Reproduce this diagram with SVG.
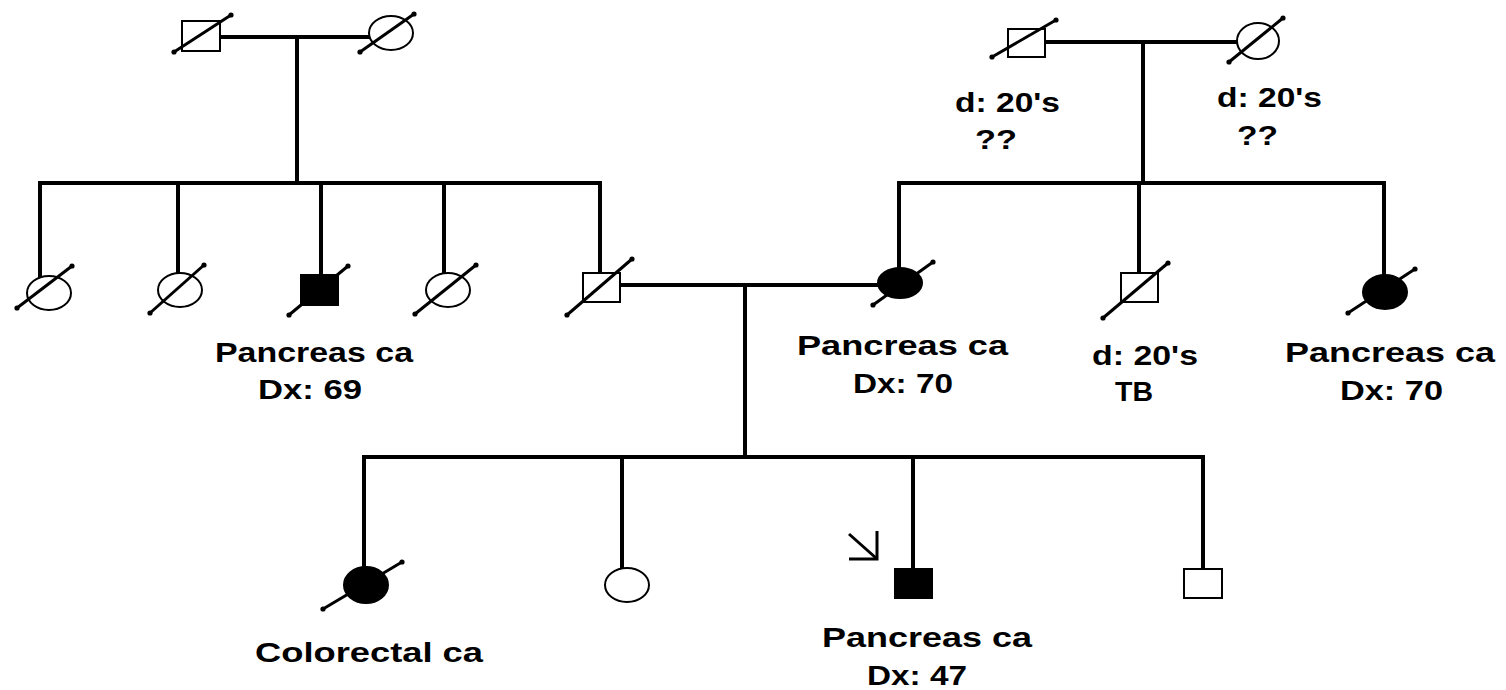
<svg xmlns="http://www.w3.org/2000/svg" width="1506" height="690" viewBox="0 0 1506 690">
<style>
.ln{stroke:#000;stroke-width:4;fill:none;stroke-linecap:square}
.sym{fill:#fff;stroke:#000;stroke-width:2}
.aff{fill:#000;stroke:#000;stroke-width:2}
.sl{stroke:#000;stroke-width:3;marker-start:url(#dot);marker-end:url(#dot)}
.t{font-family:"Liberation Sans",Arial,sans-serif;font-weight:bold;font-size:28px;fill:#000}
</style>
<defs>
<marker id="dot" markerUnits="userSpaceOnUse" markerWidth="6" markerHeight="6" refX="3" refY="3"><circle cx="3" cy="3" r="2.6" fill="#000"/></marker>
</defs>
<rect width="1506" height="690" fill="#fff"/>
<g id="connectors">
<line class="ln" x1="220" y1="37" x2="369" y2="37"/>
<line class="ln" x1="297" y1="37" x2="297" y2="183"/>
<line class="ln" x1="40" y1="183" x2="600" y2="183"/>
<line class="ln" x1="40" y1="183" x2="40" y2="276"/>
<line class="ln" x1="178" y1="183" x2="178" y2="273"/>
<line class="ln" x1="321" y1="183" x2="321" y2="275"/>
<line class="ln" x1="444" y1="183" x2="444" y2="273"/>
<line class="ln" x1="600" y1="183" x2="600" y2="273"/>
<line class="ln" x1="620" y1="285" x2="878" y2="285"/>
<line class="ln" x1="745" y1="285" x2="745" y2="457"/>
<line class="ln" x1="364" y1="457" x2="1203" y2="457"/>
<line class="ln" x1="364" y1="457" x2="364" y2="567"/>
<line class="ln" x1="622" y1="457" x2="622" y2="568"/>
<line class="ln" x1="913" y1="457" x2="913" y2="568"/>
<line class="ln" x1="1203" y1="457" x2="1203" y2="568"/>
<line class="ln" x1="1045" y1="42" x2="1237" y2="42"/>
<line class="ln" x1="1143" y1="42" x2="1143" y2="183"/>
<line class="ln" x1="899" y1="183" x2="1384" y2="183"/>
<line class="ln" x1="899" y1="183" x2="899" y2="268"/>
<line class="ln" x1="1139" y1="183" x2="1139" y2="273"/>
<line class="ln" x1="1384" y1="183" x2="1384" y2="275"/>
</g>
<g id="gf-pat">
<rect class="sym" x="182" y="21" width="38" height="30"/>
<line class="sl" x1="174" y1="52" x2="231" y2="15"/>
</g>
<g id="gm-pat">
<ellipse class="sym" cx="391" cy="33" rx="22" ry="17"/>
<line class="sl" x1="360" y1="52" x2="414" y2="14"/>
</g>
<g id="aunt1">
<ellipse class="sym" cx="49" cy="293" rx="22" ry="17"/>
<line class="sl" x1="17" y1="308" x2="72" y2="266"/>
</g>
<g id="aunt2">
<ellipse class="sym" cx="180" cy="290" rx="22" ry="17"/>
<line class="sl" x1="150" y1="313" x2="204" y2="265"/>
</g>
<g id="uncle-pat">
<rect class="aff" x="301" y="275" width="37" height="30"/>
<line class="sl" x1="289" y1="315" x2="348" y2="266"/>
<text class="t" x="215" y="362" textLength="198" lengthAdjust="spacingAndGlyphs">Pancreas ca</text>
<text class="t" x="258" y="399" textLength="104" lengthAdjust="spacingAndGlyphs">Dx: 69</text>
</g>
<g id="aunt4">
<ellipse class="sym" cx="448" cy="290" rx="22" ry="17"/>
<line class="sl" x1="415" y1="314" x2="476" y2="265"/>
</g>
<g id="father">
<rect class="sym" x="583" y="273" width="37" height="29"/>
<line class="sl" x1="567" y1="315" x2="632" y2="259"/>
</g>
<g id="mother">
<ellipse class="aff" cx="900" cy="283" rx="22" ry="15"/>
<line class="sl" x1="873" y1="305" x2="933" y2="262"/>
<text class="t" x="797" y="355" textLength="211" lengthAdjust="spacingAndGlyphs">Pancreas ca</text>
<text class="t" x="853" y="393" textLength="100" lengthAdjust="spacingAndGlyphs">Dx: 70</text>
</g>
<g id="gf-mat">
<rect class="sym" x="1008" y="29" width="37" height="28"/>
<line class="sl" x1="992" y1="57" x2="1056" y2="20"/>
<text class="t" x="955" y="112" textLength="105" lengthAdjust="spacingAndGlyphs">d: 20's</text>
<text class="t" x="975" y="149" textLength="42" lengthAdjust="spacingAndGlyphs">??</text>
</g>
<g id="gm-mat">
<ellipse class="sym" cx="1258" cy="41" rx="21" ry="18"/>
<line class="sl" x1="1229" y1="62" x2="1283" y2="18"/>
<text class="t" x="1217" y="107" textLength="105" lengthAdjust="spacingAndGlyphs">d: 20's</text>
<text class="t" x="1237" y="145" textLength="41" lengthAdjust="spacingAndGlyphs">??</text>
</g>
<g id="uncle-mat">
<rect class="sym" x="1121" y="273" width="37" height="29"/>
<line class="sl" x1="1103" y1="318" x2="1168" y2="263"/>
<text class="t" x="1092" y="365" textLength="106" lengthAdjust="spacingAndGlyphs">d: 20's</text>
<text class="t" x="1115" y="401" textLength="38" lengthAdjust="spacingAndGlyphs">TB</text>
</g>
<g id="aunt-mat">
<ellipse class="aff" cx="1385" cy="292" rx="22" ry="17"/>
<line class="sl" x1="1348" y1="313" x2="1415" y2="269"/>
<text class="t" x="1285" y="362" textLength="210" lengthAdjust="spacingAndGlyphs">Pancreas ca</text>
<text class="t" x="1340" y="400" textLength="103" lengthAdjust="spacingAndGlyphs">Dx: 70</text>
</g>
<g id="sister1">
<ellipse class="aff" cx="366" cy="585" rx="22" ry="18"/>
<line class="sl" x1="323" y1="609" x2="402" y2="562"/>
<text class="t" x="255" y="662" textLength="228" lengthAdjust="spacingAndGlyphs">Colorectal ca</text>
</g>
<g id="sister2">
<ellipse class="sym" cx="627" cy="585" rx="22" ry="17"/>
</g>
<g id="proband">
<rect class="aff" x="895" y="569" width="37" height="29"/>
<line stroke="#000" stroke-width="3" x1="849" y1="534" x2="876" y2="558"/>
<polyline fill="none" stroke="#000" stroke-width="3" points="849,559 877,559 877,531"/>
<text class="t" x="822" y="647" textLength="210" lengthAdjust="spacingAndGlyphs">Pancreas ca</text>
<text class="t" x="867" y="685" textLength="100" lengthAdjust="spacingAndGlyphs">Dx: 47</text>
</g>
<g id="brother">
<rect class="sym" x="1184" y="569" width="38" height="29"/>
</g>
</svg>
